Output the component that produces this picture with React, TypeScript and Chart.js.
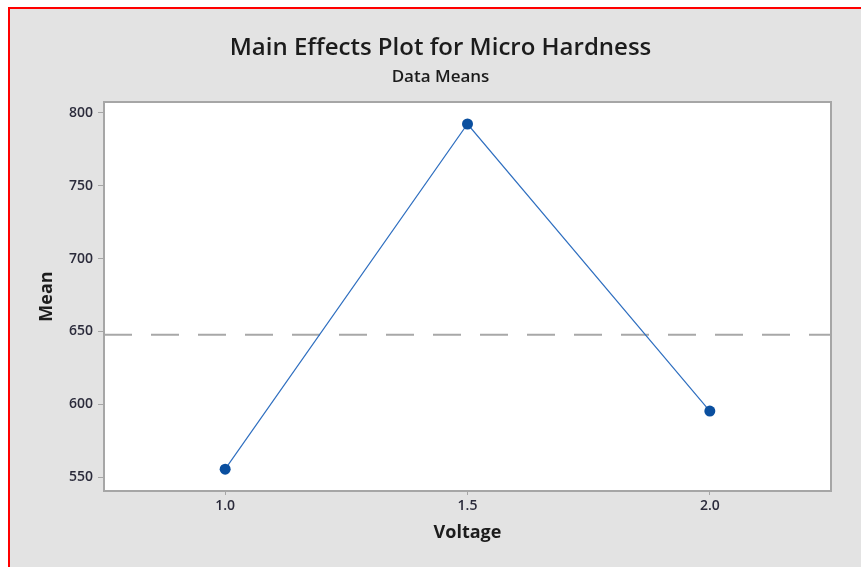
import React, { useEffect, useRef } from "react";
import { Chart, registerables } from "chart.js";

Chart.register(...registerables);

const voltageLevels = [1.0, 1.5, 2.0];
const meanHardness = [555.5, 792.4, 595.4];
const overallMean = 647.8;
const xTickValues = [1.0, 1.5, 2.0];
const yTickValues = [550, 600, 650, 700, 750, 800];
const xMin = 0.75;
const xMax = 2.25;
const yMin = 540.5;
const yMax = 807.5;

const W = 851;
const H = 558;

const plotBorder = {
  id: "plotBorder",
  afterDatasetsDraw(chart: any) {
    const { ctx, chartArea } = chart;
    ctx.save();
    ctx.strokeStyle = "#a6a6a6";
    ctx.lineWidth = 2;
    ctx.strokeRect(chartArea.left, chartArea.top, chartArea.right - chartArea.left, chartArea.bottom - chartArea.top);
    ctx.restore();
  },
};

const bgPlot = {
  id: "bgPlot",
  beforeDraw(chart: any) {
    const { ctx, chartArea } = chart;
    ctx.save();
    ctx.fillStyle = "#e3e3e3";
    ctx.fillRect(0, 0, chart.width, chart.height);
    ctx.fillStyle = "#ffffff";
    ctx.fillRect(chartArea.left, chartArea.top, chartArea.right - chartArea.left, chartArea.bottom - chartArea.top);
    ctx.restore();
  },
};

export default function App() {
  const ref = useRef<HTMLCanvasElement | null>(null);

  useEffect(() => {
    if (!ref.current) return;
    const chart = new Chart(ref.current, {
      type: "line",
      data: {
        datasets: [
          {
            label: "Mean",
            data: voltageLevels.map((v, i) => ({ x: v, y: meanHardness[i] })),
            borderColor: "#2f6fc0",
            borderWidth: 1.2,
            pointBackgroundColor: "#0a4f9f",
            pointBorderColor: "#0a4f9f",
            pointRadius: 5.5,
            pointBorderWidth: 0,
            tension: 0,
            order: 0,
          },
          {
            label: "Overall mean",
            data: [
              { x: xMin, y: overallMean },
              { x: xMax, y: overallMean },
            ],
            borderColor: "#a8a8a8",
            borderWidth: 2,
            borderDash: [28, 19],
            pointRadius: 0,
            order: 1,
          },
        ],
      },
      options: {
        responsive: false,
        animation: false,
        layout: { padding: { left: 40, right: 30, top: 0, bottom: 0 } },
        plugins: {
          legend: { display: false },
          tooltip: { enabled: false },
          title: {
            display: true,
            text: "Main Effects Plot for Micro Hardness",
            color: "#1c1c1c",
            font: { family: "'Open Sans', sans-serif", size: 24, weight: 600 },
            padding: { top: 24.6, bottom: 0 },
          },
          subtitle: {
            display: true,
            text: "Data Means",
            color: "#1c1c1c",
            font: { family: "'Open Sans', sans-serif", size: 17, weight: 600 },
            padding: { top: 4.4, bottom: 14.8 },
          },
        },
        scales: {
          x: {
            type: "linear",
            min: xMin,
            max: xMax,
            afterBuildTicks: (axis: any) => {
              axis.ticks = xTickValues.map((v) => ({ value: v }));
            },
            afterFit: (axis: any) => {
              axis.height = 76;
            },
            ticks: {
              color: "#2b2b3b",
              font: { family: "'Open Sans', sans-serif", size: 14, weight: 600 },
              padding: 3,
              callback: (v: any) => Number(v).toFixed(1),
            },
            grid: {
              drawOnChartArea: false,
              drawTicks: true,
              tickLength: 4,
              color: "#a6a6a6",
            },
            border: { display: false },
            title: {
              display: true,
              text: "Voltage",
              color: "#1c1c1c",
              font: { family: "'Open Sans', sans-serif", size: 18, weight: 700 },
              padding: { top: 4, bottom: 23.2 },
            },
          },
          y: {
            type: "linear",
            min: yMin,
            max: yMax,
            afterBuildTicks: (axis: any) => {
              axis.ticks = yTickValues.map((v) => ({ value: v }));
            },
            afterFit: (axis: any) => {
              axis.width = 54;
            },
            ticks: {
              color: "#2b2b3b",
              font: { family: "'Open Sans', sans-serif", size: 14, weight: 600 },
              padding: 5,
            },
            grid: {
              drawOnChartArea: false,
              drawTicks: true,
              tickLength: 6,
              color: "#a6a6a6",
            },
            border: { display: false },
            title: {
              display: true,
              text: "Mean",
              color: "#1c1c1c",
              font: { family: "'Open Sans', sans-serif", size: 18, weight: 700 },
              padding: { top: -14, bottom: 4 },
            },
          },
        },
      },
      plugins: [bgPlot, plotBorder],
    });
    return () => chart.destroy();
  }, []);

  return (
    <div
      style={{
        position: "absolute",
        left: 8,
        top: 7,
        width: W,
        height: H,
        borderTop: "2px solid #ff0000",
        borderLeft: "2px solid #ff0000",
        background: "#e3e3e3",
      }}
    >
      <canvas ref={ref} width={W} height={H} style={{ display: "block", width: W, height: H }} />
    </div>
  );
}
